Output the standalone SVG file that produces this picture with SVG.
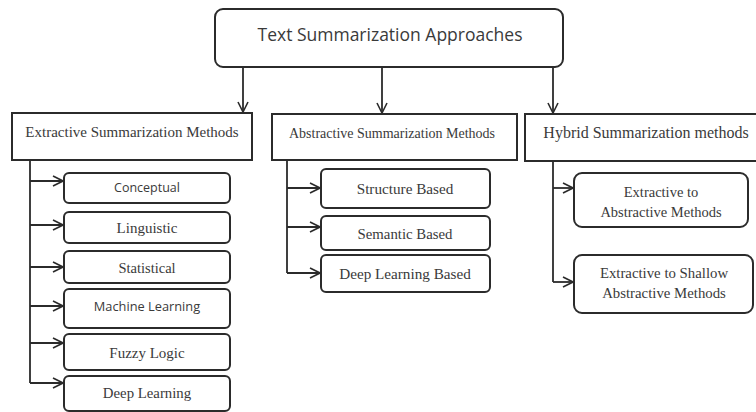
<svg xmlns="http://www.w3.org/2000/svg" width="756" height="412" viewBox="0 0 756 412">
  <defs>
    <marker id="arrow" viewBox="0 0 12 12" refX="11" refY="6" markerWidth="12" markerHeight="12" markerUnits="userSpaceOnUse" orient="auto">
      <path d="M1,1 L11,6 L1,11" fill="none" stroke="#2b2b2b" stroke-width="1.6"/>
    </marker>
    <style>
      .box { fill: #ffffff; stroke: #2b2b2b; stroke-width: 2; }
      .wire { fill: none; stroke: #2b2b2b; stroke-width: 1.8; }
      .sans { font-family: "Open Sans", "Liberation Sans", sans-serif; fill: #3a3a3a; text-anchor: middle; }
      .serif { font-family: "Liberation Serif", "DejaVu Serif", serif; fill: #3a3a3a; text-anchor: middle; }
    </style>
  </defs>
  <rect width="756" height="412" fill="#ffffff"/>

  <!-- root -->
  <g id="root">
    <rect class="box" x="215" y="9" width="348" height="58" rx="8"/>
    <text class="sans" x="390" y="41" font-size="17.5">Text Summarization Approaches</text>
  </g>

  <!-- category headers -->
  <g id="extractive">
    <rect class="box" x="12" y="113" width="240" height="47"/>
    <text class="serif" x="132" y="137" font-size="15">Extractive Summarization Methods</text>
  </g>
  <g id="abstractive">
    <rect class="box" x="272" y="114" width="245" height="46"/>
    <text class="serif" x="392" y="138" font-size="14">Abstractive Summarization Methods</text>
  </g>
  <g id="hybrid">
    <rect class="box" x="525" y="114" width="232" height="47"/>
    <text class="serif" x="646" y="138" font-size="16">Hybrid Summarization methods</text>
  </g>

  <!-- extractive methods -->
  <g id="conceptual">
    <rect class="box" x="64" y="173" width="166" height="30" rx="5"/>
    <text class="sans" x="147" y="192" font-size="12.5">Conceptual</text>
  </g>
  <g id="linguistic">
    <rect class="box" x="64" y="212" width="166" height="31" rx="5"/>
    <text class="serif" x="147" y="233" font-size="15">Linguistic</text>
  </g>
  <g id="statistical">
    <rect class="box" x="64" y="251" width="166" height="32" rx="5"/>
    <text class="serif" x="147" y="273" font-size="14.5">Statistical</text>
  </g>
  <g id="machine-learning">
    <rect class="box" x="64" y="289" width="166" height="39" rx="5"/>
    <text class="sans" x="147" y="311" font-size="12.8">Machine Learning</text>
  </g>
  <g id="fuzzy-logic">
    <rect class="box" x="64" y="334" width="166" height="36" rx="5"/>
    <text class="serif" x="147" y="358" font-size="15">Fuzzy Logic</text>
  </g>
  <g id="deep-learning">
    <rect class="box" x="64" y="376" width="166" height="35" rx="5"/>
    <text class="serif" x="147" y="398" font-size="14.8">Deep Learning</text>
  </g>

  <!-- abstractive methods -->
  <g id="structure-based">
    <rect class="box" x="321" y="169" width="169" height="39" rx="5"/>
    <text class="serif" x="405" y="194" font-size="15.2">Structure Based</text>
  </g>
  <g id="semantic-based">
    <rect class="box" x="321" y="216" width="169" height="34" rx="5"/>
    <text class="serif" x="405" y="239" font-size="14.8">Semantic Based</text>
  </g>
  <g id="deep-learning-based">
    <rect class="box" x="321" y="255" width="169" height="37" rx="5"/>
    <text class="serif" x="405" y="279" font-size="15.2">Deep Learning Based</text>
  </g>

  <!-- hybrid methods -->
  <g id="ext-to-abs">
    <rect class="box" x="574" y="173" width="174" height="54" rx="8"/>
    <text class="serif" x="661" y="197" font-size="14.5">Extractive to</text>
    <text class="serif" x="661" y="217" font-size="14.5">Abstractive Methods</text>
  </g>
  <g id="ext-to-shallow">
    <rect class="box" x="574" y="255" width="179" height="58" rx="8"/>
    <text class="serif" x="664" y="278" font-size="14.8">Extractive to Shallow</text>
    <text class="serif" x="664" y="298" font-size="14.8">Abstractive Methods</text>
  </g>

  <!-- connectors -->
  <g id="connectors">
    <line class="wire" x1="243" y1="67" x2="243" y2="112" marker-end="url(#arrow)"/>
    <line class="wire" x1="382" y1="67" x2="382" y2="113" marker-end="url(#arrow)"/>
    <line class="wire" x1="553" y1="67" x2="553" y2="113" marker-end="url(#arrow)"/>

    <path class="wire" d="M30,160 V383"/>
    <path class="wire" d="M30,181 H63" marker-end="url(#arrow)"/>
    <path class="wire" d="M30,225 H63" marker-end="url(#arrow)"/>
    <path class="wire" d="M30,267 H63" marker-end="url(#arrow)"/>
    <path class="wire" d="M30,306 H63" marker-end="url(#arrow)"/>
    <path class="wire" d="M30,343 H63" marker-end="url(#arrow)"/>
    <path class="wire" d="M30,383 H63" marker-end="url(#arrow)"/>

    <path class="wire" d="M287,160 V273"/>
    <path class="wire" d="M287,188 H320" marker-end="url(#arrow)"/>
    <path class="wire" d="M287,227 H320" marker-end="url(#arrow)"/>
    <path class="wire" d="M287,273 H320" marker-end="url(#arrow)"/>

    <path class="wire" d="M553,161 V282"/>
    <path class="wire" d="M553,188 H573" marker-end="url(#arrow)"/>
    <path class="wire" d="M553,282 H573" marker-end="url(#arrow)"/>
  </g>
</svg>
